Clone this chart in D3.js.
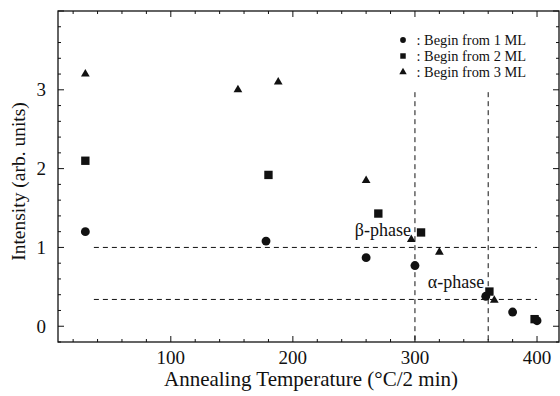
<!DOCTYPE html>
<html>
<head>
<meta charset="utf-8">
<script src="https://cdn.jsdelivr.net/npm/d3@7"></script>
<style>
  body { margin: 0; background: #fff; }
  text { font-family: "Liberation Serif", "Times New Roman", serif; fill: #111; }
</style>
</head>
<body>
<div class="chart"></div>
<script>
// data
var temp1 = [30, 178, 260, 300, 358, 380, 400];
var int1  = [1.2, 1.08, 0.87, 0.77, 0.38, 0.18, 0.07];
var temp2 = [30, 180, 270, 305, 361, 398];
var int2  = [2.1, 1.92, 1.43, 1.19, 0.44, 0.09];
var temp3 = [30, 155, 188, 260, 297, 320, 365];
var int3  = [3.2, 3.0, 3.1, 1.85, 1.1, 0.94, 0.33];
var legendLabels = [": Begin from 1 ML", ": Begin from 2 ML", ": Begin from 3 ML"];
var xTicks = [100, 200, 300, 400];
var yTicks = [0, 1, 2, 3];
// guide lines: phase levels and transition temperatures
var phaseLevels = [1.0, 0.34];
var phaseTemps = [300, 360];
var phaseNames = ["\u03b2-phase", "\u03b1-phase"];

var margin = { top: 11, right: 1, bottom: 54, left: 58 },
	width = 560 - margin.left - margin.right,
	height = 396 - margin.top - margin.bottom;

var svg = d3.select(".chart").append("svg")
	.attr("width", 560)
	.attr("height", 396)
	.append("g")
	.attr("transform", "translate(" + margin.left + "," + margin.top + ")");

var x = d3.scaleLinear().domain([7.6, 418]).range([0, width]);
var y = d3.scaleLinear().domain([-0.2, 4.0]).range([height, 0]);

var minorX = d3.range(20, 420, 20);
var minorY = d3.range(-0.2, 4.01, 0.2).map(function (d) { return Math.round(d * 10) / 10; });

// frame
svg.append("rect")
	.attr("width", width).attr("height", height)
	.attr("fill", "none").attr("stroke", "#111").attr("stroke-width", 1.3);

function isMajor(v) { return Math.abs(v - Math.round(v)) < 1e-6; }

// bottom and top ticks (inside)
svg.append("g").selectAll("line.xb")
	.data(minorX).enter().append("line")
	.attr("x1", function (d) { return x(d); }).attr("x2", function (d) { return x(d); })
	.attr("y1", height).attr("y2", function (d) { return height - (d % 100 === 0 ? 6 : 3); })
	.attr("stroke", "#111");
svg.append("g").selectAll("line.xt")
	.data(minorX).enter().append("line")
	.attr("x1", function (d) { return x(d); }).attr("x2", function (d) { return x(d); })
	.attr("y1", 0).attr("y2", function (d) { return d % 100 === 0 ? 6 : 3; })
	.attr("stroke", "#111");

// left and right ticks (inside)
svg.append("g").selectAll("line.yl")
	.data(minorY).enter().append("line")
	.attr("y1", function (d) { return y(d); }).attr("y2", function (d) { return y(d); })
	.attr("x1", 0).attr("x2", function (d) { return isMajor(d) ? 6 : 3; })
	.attr("stroke", "#111");
svg.append("g").selectAll("line.yr")
	.data(minorY).enter().append("line")
	.attr("y1", function (d) { return y(d); }).attr("y2", function (d) { return y(d); })
	.attr("x1", width).attr("x2", function (d) { return width - (isMajor(d) ? 6 : 3); })
	.attr("stroke", "#111");

// tick labels
svg.append("g").selectAll("text")
	.data(xTicks).enter().append("text")
	.attr("x", function (d) { return x(d); })
	.attr("y", height + 22)
	.attr("text-anchor", "middle")
	.style("font-size", "19px")
	.text(function (d) { return d; });
svg.append("g").selectAll("text")
	.data(yTicks).enter().append("text")
	.attr("x", -12)
	.attr("y", function (d) { return y(d); })
	.attr("dy", "0.35em")
	.attr("text-anchor", "end")
	.style("font-size", "19px")
	.text(function (d) { return d; });

// axis titles
svg.append("text")
	.attr("x", 253)
	.attr("y", height + 44)
	.attr("text-anchor", "middle")
	.style("font-size", "21px")
	.text("Annealing Temperature (\u00b0C/2 min)");
svg.append("text")
	.attr("transform", "translate(-33.5," + 170.5 + ") rotate(-90)")
	.attr("text-anchor", "middle")
	.style("font-size", "19.5px")
	.text("Intensity (arb. units)");

// dashed guide lines
svg.append("g").selectAll("line")
	.data(phaseLevels).enter().append("line")
	.attr("x1", x(37)).attr("x2", x(400))
	.attr("y1", function (d) { return y(d); }).attr("y2", function (d) { return y(d); })
	.attr("stroke", "#111").attr("stroke-dasharray", "5,4");
svg.append("g").selectAll("line")
	.data(phaseTemps).enter().append("line")
	.attr("x1", function (d) { return x(d); }).attr("x2", function (d) { return x(d); })
	.attr("y1", y(2.97)).attr("y2", height)
	.attr("stroke", "#111").attr("stroke-dasharray", "5,4");

// phase labels
svg.append("g").selectAll("text")
	.data(phaseNames).enter().append("text")
	.attr("x", function (d, i) { return x(phaseTemps[i]) - 4; })
	.attr("y", function (d, i) { return y(phaseLevels[i]) - 11; })
	.attr("text-anchor", "end")
	.style("font-size", "18px")
	.text(function (d) { return d; });

// markers
var sym = [d3.symbolCircle, d3.symbolSquare, d3.symbolTriangle];
var sizes = [62, 70, 33];
var series = [[temp1, int1], [temp2, int2], [temp3, int3]];
series.forEach(function (s, k) {
	svg.append("g").selectAll("path")
		.data(s[0]).enter().append("path")
		.attr("transform", function (d, i) { return "translate(" + x(d) + "," + y(s[1][i]) + ")"; })
		.attr("d", d3.symbol().type(sym[k]).size(sizes[k]))
		.attr("fill", "#111");
});

// legend
var legendSizes = [26, 30, 24];
var legend = svg.append("g").attr("transform", "translate(345,29)");
legendLabels.forEach(function (t, i) {
	legend.append("path")
		.attr("transform", "translate(0," + (i * 16) + ")")
		.attr("d", d3.symbol().type(sym[i]).size(legendSizes[i]))
		.attr("fill", "#111");
	legend.append("text")
		.attr("x", 13.5)
		.attr("y", i * 16)
		.attr("dy", "0.35em")
		.style("font-size", "14.4px")
		.text(t);
});
</script>
</body>
</html>
